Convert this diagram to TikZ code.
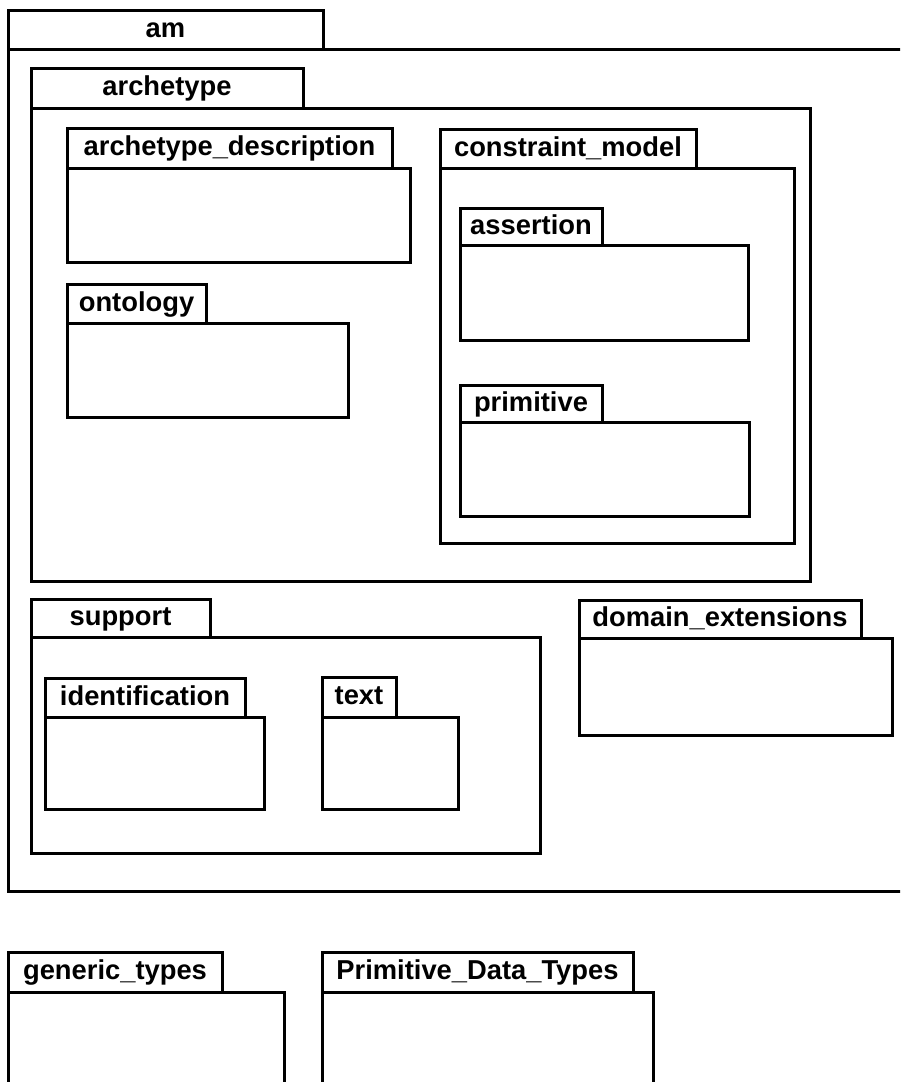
\documentclass[tikz,border=0pt]{standalone}
\usepackage{fontspec}
\setmainfont{Liberation Sans}
\usepackage{xcolor}

\tikzset{
  pkg/.style={line width=2.25pt, fill=white},
  pkgname/.style={font=\bfseries\fontsize{20.5}{24}\selectfont, text height=15.8pt, text depth=4pt, inner sep=0pt}
}

\begin{document}
\begin{tikzpicture}[x=0.75pt, y=-0.75pt]
                \useasboundingbox (0,0) rectangle (900,1082);
                \clip (0,0) rectangle (900,1082);

                \filldraw[pkg] (8,49) rectangle (930,891);
                \filldraw[pkg] (8,10) rectangle (323,49) node[pkgname, midway] (am) {am};

                \filldraw[pkg] (31,108) rectangle (810,581);
                \filldraw[pkg] (31,68) rectangle (303,108) node[pkgname, midway] (archetype) {archetype};

                \filldraw[pkg] (67,168) rectangle (410,262);
                \filldraw[pkg] (67,128) rectangle (392,168) node[pkgname, midway] (description) {archetype\_description};

                \filldraw[pkg] (67,323) rectangle (348,417);
                \filldraw[pkg] (67,284) rectangle (206,323) node[pkgname, midway] (ontology) {ontology};

                \filldraw[pkg] (440,168) rectangle (794,543);
                \filldraw[pkg] (440,129) rectangle (696,168) node[pkgname, midway] (constraint) {constraint\_model};

                \filldraw[pkg] (460,245) rectangle (748,340);
                \filldraw[pkg] (460,208) rectangle (602,245) node[pkgname, midway] (assertion) {assertion};

                \filldraw[pkg] (460,422) rectangle (749,516);
                \filldraw[pkg] (460,385) rectangle (602,422) node[pkgname, midway] (primitive) {primitive};

                \filldraw[pkg] (31,637) rectangle (540,853);
                \filldraw[pkg] (31,599) rectangle (210,637) node[pkgname, midway] (support) {support};

                \filldraw[pkg] (45,717) rectangle (264,809);
                \filldraw[pkg] (45,678) rectangle (245,717) node[pkgname, midway] (identification) {identification};

                \filldraw[pkg] (322,717) rectangle (458,809);
                \filldraw[pkg] (322,677) rectangle (396,717) node[pkgname, midway] (text) {text};

                \filldraw[pkg] (579,638) rectangle (892,735);
                \filldraw[pkg] (579,600) rectangle (861,638) node[pkgname, midway] (domain) {domain\_extensions};

                % outside am
                \filldraw[pkg] (8,992) rectangle (284,1100);
                \filldraw[pkg] (8,952) rectangle (222,992) node[pkgname, midway] (generic) {generic\_types};

                \filldraw[pkg] (322,992) rectangle (653,1100);
                \filldraw[pkg] (322,952) rectangle (633,992) node[pkgname, midway] (datatypes) {Primitive\_Data\_Types};
\end{tikzpicture}
\end{document}
